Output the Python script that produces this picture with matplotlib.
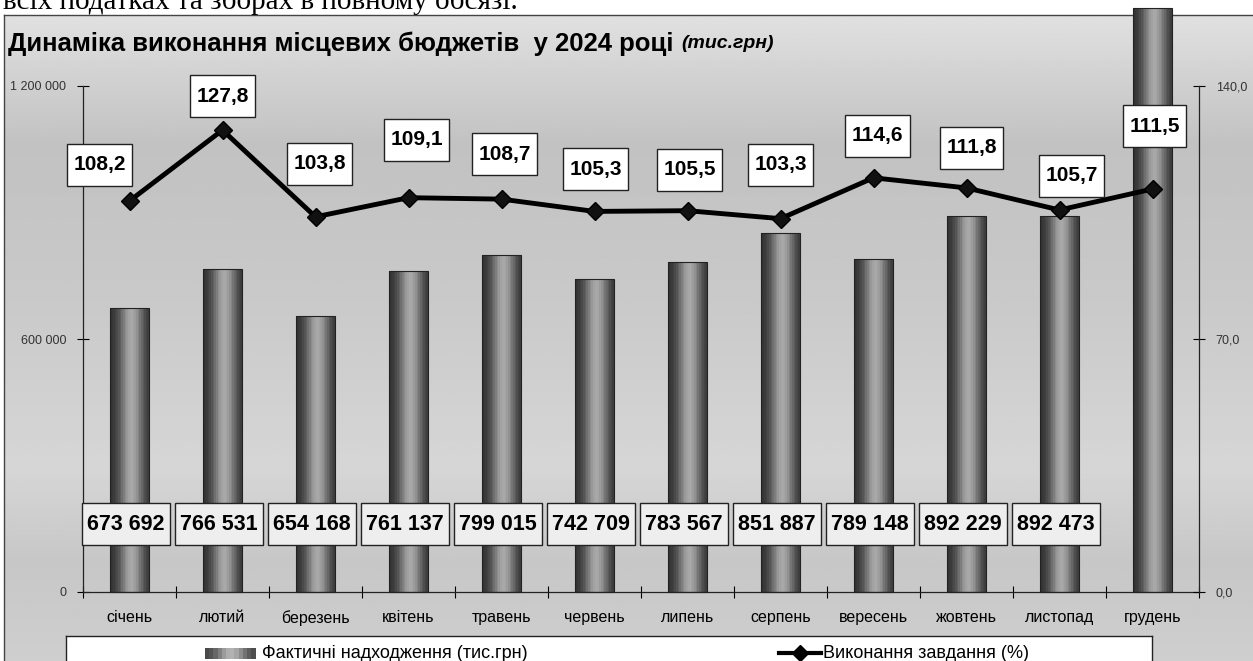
import numpy as np
import matplotlib
matplotlib.use("Agg")
import matplotlib.pyplot as plt
from matplotlib.patches import Rectangle
from matplotlib.lines import Line2D
from matplotlib.path import Path

# ---------------- data ----------------
months = ['січень', 'лютий', 'березень', 'квітень', 'травень', 'червень',
          'липень', 'серпень', 'вересень', 'жовтень', 'листопад', 'грудень']
actual = [673692, 766531, 654168, 761137, 799015, 742709,
          783567, 851887, 789148, 892229, 892473, 1385000]
percent = [108.2, 127.8, 103.8, 109.1, 108.7, 105.3,
           105.5, 103.3, 114.6, 111.8, 105.7, 111.5]
left_ticks = [0, 600000, 1200000]
left_ticklabels = ['0', '600 000', '1 200 000']
right_ticks = [0, 70, 140]
right_ticklabels = ['0,0', '70,0', '140,0']
title_main = 'Динаміка виконання місцевих бюджетів  у 2024 році '
title_unit = '(тис.грн)'
legend_bar = 'Фактичні надходження (тис.грн)'
legend_line = 'Виконання завдання (%)'
top_text = 'всіх податках та зборах в повному обсязі.'

# ---------------- layout ----------------
W, H = 1253, 661
plt.rcParams['font.family'] = ['Liberation Sans', 'DejaVu Sans']
fig = plt.figure(figsize=(W / 100, H / 100), dpi=100)
fig.patch.set_facecolor('white')


def fx(px):
    return px / W


def fy(py):
    return 1 - py / H


def make_box(hpad, vpad):
    def box(x0, y0, width, height, mutation_size):
        px = mutation_size * hpad
        py = mutation_size * vpad
        xa, xb = x0 - px, x0 + width + px
        ya, yb = y0 - py, y0 + height + py
        return Path([(xa, ya), (xb, ya), (xb, yb), (xa, yb), (xa, ya)], closed=True)
    return box


# background frame with gradient
frame_top = 15
bg = fig.add_axes([fx(4), 0, 1 - fx(4), fy(frame_top)])
grad_stops_y = [0.0, 0.2, 0.45, 0.7, 0.85, 1.0]
grad_stops_v = [0.88, 0.76, 0.79, 0.84, 0.78, 0.81]
yy = np.linspace(0, 1, 300)
vals = np.interp(yy, grad_stops_y, grad_stops_v)
bg.imshow(np.tile(vals[:, None], (1, 10)), cmap='gray', vmin=0, vmax=1,
          aspect='auto', extent=(0, 1, 1, 0))
bg.set_xlim(0, 1)
bg.set_ylim(1, 0)
bg.set_xticks([])
bg.set_yticks([])
for s in bg.spines.values():
    s.set_color('#444444')
    s.set_linewidth(1.0)
bg.spines['right'].set_visible(False)
bg.spines['bottom'].set_visible(False)

fig.text(fx(3), fy(9), top_text, family='Liberation Serif', fontsize=21,
         va='baseline', ha='left', color='black')

# main axes
ax = fig.add_axes([fx(83), fy(592), fx(1199 - 83), (592 - 86) / H])
ax.patch.set_alpha(0)
x = np.arange(len(months))
bw = 0.42
nstrip = 24
edges = np.linspace(-bw / 2, bw / 2, nstrip + 1)
for k in range(nstrip):
    c = (edges[k] + edges[k + 1]) / 2 / bw + 0.5  # 0..1 across bar
    shade = 0.18 + 0.48 * np.exp(-((c - 0.55) / 0.30) ** 2)
    ax.bar(x + edges[k], actual, width=(bw / nstrip) * 1.02, align='edge',
           color=str(shade), linewidth=0, clip_on=False, zorder=2)
ax.bar(x, actual, width=bw, facecolor='none', edgecolor='#222222',
       linewidth=0.8, clip_on=False, zorder=3)

ax.set_xlim(-0.5, len(months) - 0.5)
ax.set_ylim(0, 1200000)
ax.set_yticks(left_ticks)
ax.set_yticklabels(left_ticklabels)
ax.set_xticks(x)
ax.set_xticklabels(months)
ax.set_xticks(np.arange(-0.5, len(months), 1), minor=True)
ax.tick_params(axis='x', which='major', length=0, pad=13, labelsize=11.5)
ax.tick_params(axis='x', which='minor', length=8, direction='inout', width=0.8)
ax.tick_params(axis='y', length=8, direction='inout', width=0.8, pad=8,
               labelsize=9, labelcolor='#333333')
for s in ['top', 'right']:
    ax.spines[s].set_visible(False)
for s in ['left', 'bottom']:
    ax.spines[s].set_linewidth(0.9)
    ax.spines[s].set_color('#222222')

# bar value labels (December bar runs off the chart, no label)
bar_label_value = 161000
for i in range(len(months) - 1):
    txt = f"{actual[i]:,}".replace(',', ' ')
    ax.text(x[i] - 0.04, bar_label_value, txt, ha='center', va='center',
            fontsize=15.5, fontweight='bold', zorder=6,
            bbox=dict(boxstyle=make_box(0.24, 0.5), facecolor='#eeeeee',
                      edgecolor='#222222', linewidth=1.0))

# line on secondary axis
ax2 = ax.twinx()
ax2.set_ylim(0, 140)
ax2.set_yticks(right_ticks)
ax2.set_yticklabels(right_ticklabels)
ax2.tick_params(axis='y', length=8, direction='inout', width=0.8, pad=8,
                labelsize=9, labelcolor='#333333')
for s in ['top', 'left', 'bottom']:
    ax2.spines[s].set_visible(False)
ax2.spines['right'].set_linewidth(0.9)
ax2.spines['right'].set_color('#222222')
ax2.plot(x, percent, color='black', linewidth=3.5, marker='D', markersize=9,
         markerfacecolor='#111111', markeredgecolor='black', zorder=5)

line_label_offsets = [(-30, 36), (0, 34), (4, 53), (8, 58), (3, 45), (1, 42),
                      (2, 41), (0, 54), (4, 42), (5, 40), (12, 34), (2, 63)]
for i, v in enumerate(percent):
    dx, dy = line_label_offsets[i]
    ax2.annotate(f"{v:.1f}".replace('.', ','), (x[i], v),
                 xytext=(dx, dy), textcoords='offset pixels',
                 ha='center', va='center', fontsize=15, fontweight='bold',
                 zorder=7,
                 bbox=dict(boxstyle=make_box(0.32, 0.55), facecolor='white',
                           edgecolor='#222222', linewidth=1.0))

# title
t1 = fig.text(fx(8), fy(44), title_main, fontsize=18.5, fontweight='bold',
              va='center', ha='left')
fig.canvas.draw()
bb = t1.get_window_extent()
fig.text(bb.x1 / W + fx(1), fy(44), title_unit, fontsize=14,
         fontweight='bold', style='italic', va='center', ha='left')

# legend box
leg = fig.add_axes([fx(66), 0, fx(1152 - 66), (H - 636) / H])
leg.set_xlim(66, 1152)
leg.set_ylim(H, 636)
leg.set_facecolor('white')
leg.set_xticks([])
leg.set_yticks([])
for s in leg.spines.values():
    s.set_color('#222222')
    s.set_linewidth(1.0)
leg.spines['bottom'].set_visible(False)
for k in range(12):
    c = (k + 0.5) / 12
    shade = 0.25 + 0.45 * np.exp(-((c - 0.52) / 0.3) ** 2)
    leg.add_patch(Rectangle((205 + k * 4.2, 648), 4.3, 11, facecolor=str(shade),
                            edgecolor='none'))
leg.text(262, 653, legend_bar, fontsize=13, va='center', ha='left')
leg.add_line(Line2D([779, 821], [653, 653], color='black', linewidth=3))
leg.plot([800], [653], marker='D', color='black', markersize=8)
leg.text(823, 653, legend_line, fontsize=13, va='center', ha='left')

fig.savefig('out.png', dpi=100, facecolor='white')
